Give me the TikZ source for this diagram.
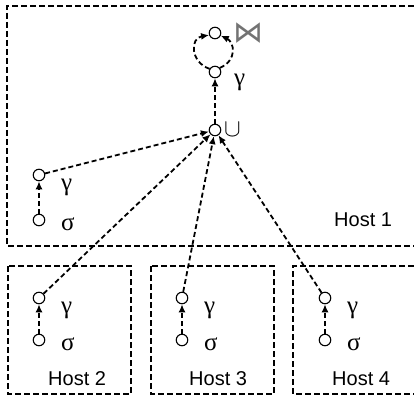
\documentclass[tikz,border=0pt]{standalone}
\usepackage{fontspec}
\setmainfont{Liberation Sans}
\newfontfamily\symfont{DejaVu Sans}
\newfontfamily\greekfont{Liberation Serif}
\usetikzlibrary{arrows.meta}

\tikzset{
  op/.style={circle, draw, line width=1.1pt, minimum size=11.5pt, inner sep=0pt},
  flow/.style={-{Latex[length=8pt,width=7pt]}, line width=1.8pt, dash pattern=on 5pt off 3pt},
  hostbox/.style={line width=1.6pt, dash pattern=on 6pt off 3pt},
  lbl/.style={anchor=base west, inner sep=0pt, font=\fontsize{20}{23}\selectfont},
  glbl/.style={anchor=base west, inner sep=0pt, font=\greekfont\fontsize{25}{27}\selectfont},
}

\begin{document}
\begin{tikzpicture}[x=1pt, y=-1pt]
  \useasboundingbox (0,0) rectangle (414,395);

  % host boundaries (the right-hand ones run off the edge)
  \draw[hostbox] (414,6) -- (7,6) -- (7,246) -- (414,246);
  \draw[hostbox] (8,266) rectangle (131,394);
  \draw[hostbox] (151,266) rectangle (274,394);
  \draw[hostbox] (414,266) -- (293,266) -- (293,394) -- (414,394);

  % Host 1 plan
  \node[op] (join) at (215,33) {};
  \node[op] (agg)  at (215,72) {};
  \node[op] (uni)  at (215,130) {};
  \node[op] (g1)   at (39,175) {};
  \node[op] (s1)   at (39,220) {};

  % Hosts 2--4
  \node[op] (g2) at (39,298) {};
  \node[op] (s2) at (39,340) {};
  \node[op] (g3) at (182,298) {};
  \node[op] (s3) at (182,340) {};
  \node[op] (g4) at (325,298) {};
  \node[op] (s4) at (325,340) {};

  % operator labels
  \node[anchor=west, inner sep=0pt, font=\symfont\fontsize{30}{32}\selectfont, text=black!55] (joinl) at (233,33) {⋈};
  \node[glbl] (aggl) at (234,86) {γ};
  \node[anchor=west, inner sep=0pt, font=\fontsize{26}{28}\selectfont] (unil) at (224,130) {$\cup$};
  \node[glbl] (g1l) at (61,190) {γ};
  \node[glbl] (s1l) at (61,230) {σ};
  \node[glbl] (g2l) at (61,313) {γ};
  \node[glbl] (s2l) at (61,350) {σ};
  \node[glbl] (g3l) at (204,313) {γ};
  \node[glbl] (s3l) at (204,350) {σ};
  \node[glbl] (g4l) at (347,313) {γ};
  \node[glbl] (s4l) at (347,350) {σ};

  % host names
  \node[lbl] (h1) at (334,226) {Host 1};
  \node[lbl] (h2) at (48,385) {Host 2};
  \node[lbl] (h3) at (189,385) {Host 3};
  \node[lbl] (h4) at (332,385) {Host 4};

  % data flow
  \draw[flow] (s1) -- (g1);
  \draw[flow] (s2) -- (g2);
  \draw[flow] (s3) -- (g3);
  \draw[flow] (s4) -- (g4);
  \draw[flow] (g1) -- (uni);
  \draw[flow] (g2) -- (uni);
  \draw[flow] (g3) -- (uni);
  \draw[flow] (g4) -- (uni);
  \draw[flow] (uni) -- (agg);
  \draw[flow] (agg.150) .. controls (190,62) and (190,38) .. (join.200);
  \draw[flow] (agg.40) .. controls (238,60) and (234,42) .. (join.-25);
\end{tikzpicture}
\end{document}
